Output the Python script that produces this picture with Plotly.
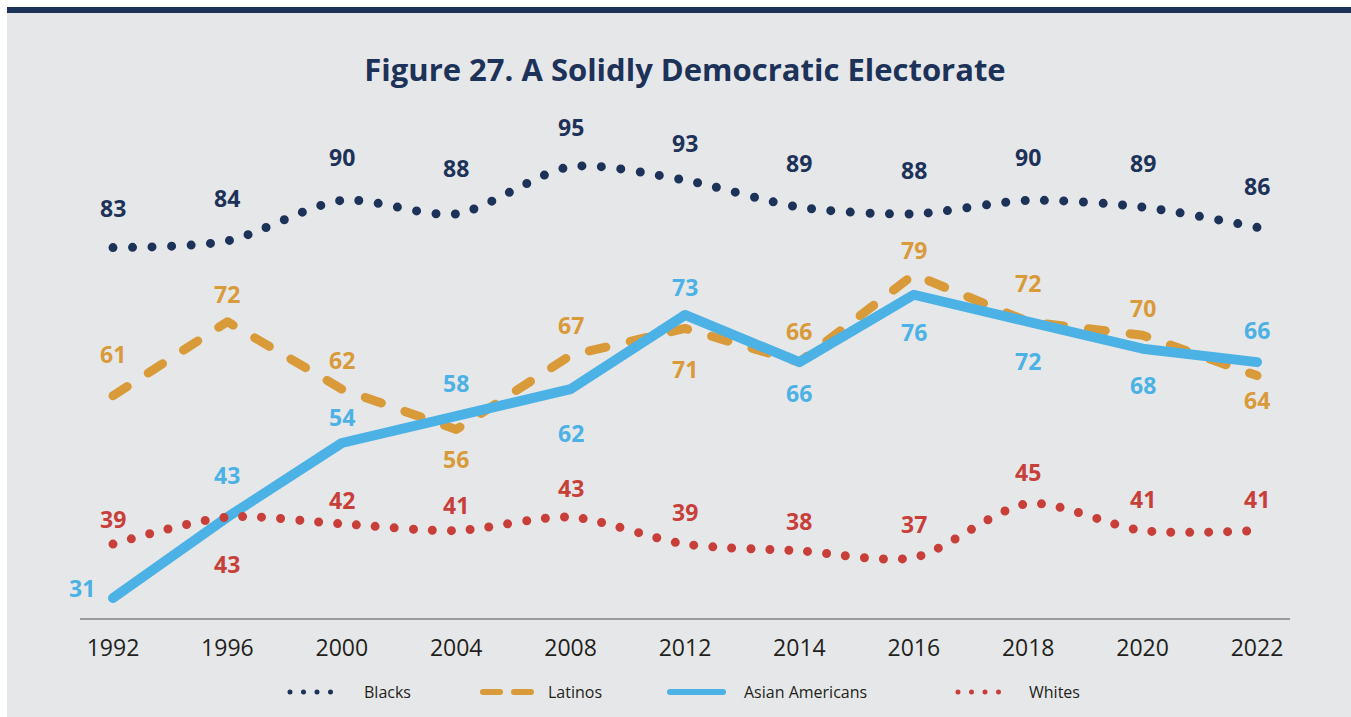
import plotly.graph_objects as go

# ---- data -------------------------------------------------------------
years = ["1992", "1996", "2000", "2004", "2008", "2012", "2014", "2016", "2018", "2020", "2022"]
blacks = [83, 84, 90, 88, 95, 93, 89, 88, 90, 89, 86]
latinos = [61, 72, 62, 56, 67, 71, 66, 79, 72, 70, 64]
asian_americans = [31, 43, 54, 58, 62, 73, 66, 76, 72, 68, 66]
whites = [39, 43, 42, 41, 43, 39, 38, 37, 45, 41, 41]
series_names = ["Blacks", "Latinos", "Asian Americans", "Whites"]

# ---- styling ----------------------------------------------------------
NAVY = "#1d3259"
ORANGE = "#d99a3a"
BLUE = "#4cb2e5"
RED = "#c83f3a"
BG = "#e6e7e8"
TEXT = "#231f20"
FONT = "Open Sans"

# label offsets in pixels (positive = above the point)
blacks_off = [40, 43, 43, 46, 40, 37, 44, 44, 43, 44, 41]
latinos_off = [42, 28, 29, -29, 30, -41, 31, 25, 39, 27, -24]
asian_off = [10, 42, 26, 33, -44, 28, -31, -37, -39, -36, 32]
asian_xoff = [-31, 0, 0, 0, 0, 0, 0, 0, 0, 0, 0]
whites_off = [25, -47, 24, 26, 29, 32, 30, 34, 32, 32, 32]

x = list(range(len(years)))

# plot-area geometry in pixels
W, H = 1351, 717
L, R, T, B = 80, 1290, 100, 618


def px_x(p):
    return (p - L) / (R - L)


def px_y(p):
    return (B - p) / (B - T)


fig = go.Figure()

fig.add_trace(go.Scatter(
    x=x, y=blacks, name=series_names[0], mode="lines",
    line=dict(color=NAVY, width=9, dash="0px,19.5px", shape="spline", smoothing=0.8),
    hoverinfo="skip"))
fig.add_trace(go.Scatter(
    x=x, y=latinos, name=series_names[1], mode="lines",
    line=dict(color=ORANGE, width=9, dash="17px,25px"),
    hoverinfo="skip"))
fig.add_trace(go.Scatter(
    x=x, y=asian_americans, name=series_names[2], mode="lines",
    line=dict(color=BLUE, width=10),
    hoverinfo="skip"))
fig.add_trace(go.Scatter(
    x=x, y=whites, name=series_names[3], mode="lines",
    line=dict(color=RED, width=9, dash="0px,19px", shape="spline", smoothing=0.8),
    hoverinfo="skip"))

annotations = []
for series, offs, color, xoffs in [
    (blacks, blacks_off, NAVY, None),
    (latinos, latinos_off, ORANGE, None),
    (asian_americans, asian_off, BLUE, asian_xoff),
    (whites, whites_off, RED, None),
]:
    for i, v in enumerate(series):
        annotations.append(dict(
            x=i, y=v, xref="x", yref="y", text=f"<b>{v}</b>", showarrow=False,
            yshift=offs[i], xshift=(xoffs[i] if xoffs else 0),
            font=dict(family=FONT, size=23, color=color),
            xanchor="center", yanchor="middle"))

shapes = [
    # white frame strips and navy top rule
    dict(type="rect", xref="paper", yref="paper", layer="below",
         x0=px_x(0), x1=px_x(W), y0=px_y(0), y1=px_y(13),
         fillcolor="white", line=dict(width=0)),
    dict(type="rect", xref="paper", yref="paper", layer="below",
         x0=px_x(0), x1=px_x(7), y0=px_y(0), y1=px_y(H),
         fillcolor="white", line=dict(width=0)),
    dict(type="rect", xref="paper", yref="paper", layer="below",
         x0=px_x(7), x1=px_x(W), y0=px_y(7), y1=px_y(13),
         fillcolor=NAVY, line=dict(width=0)),
]

# legend: sample stroke + label for each series
LEG_Y = 692
legend_items = [
    # (symbol x0, symbol x1, text x, color, width, dash)
    (290, 344, 362, NAVY, 5, "0px,13.5px"),
    (483, 531, 546, ORANGE, 6, "17px,14px"),
    (670, 723, 742, BLUE, 6, "solid"),
    (958, 1012, 1027, RED, 5, "0px,13.5px"),
]
for name, (sx0, sx1, tx, color, lw, dash) in zip(series_names, legend_items):
    shapes.append(dict(type="line", xref="paper", yref="paper",
                       x0=px_x(sx0), x1=px_x(sx1), y0=px_y(LEG_Y), y1=px_y(LEG_Y),
                       line=dict(color=color, width=lw, dash=dash)))
    annotations.append(dict(x=px_x(tx), y=px_y(LEG_Y), xref="paper", yref="paper",
                            text=name, showarrow=False, xanchor="left", yanchor="middle",
                            font=dict(family=FONT, size=16, color=TEXT)))

fig.update_layout(
    width=W, height=H,
    margin=dict(l=L, r=W - R, t=T, b=H - B),
    paper_bgcolor=BG, plot_bgcolor=BG,
    showlegend=False,
    title=dict(text="<b>Figure 27. A Solidly Democratic Electorate</b>",
               x=0.5, xref="paper", y=1 - 70 / H, yref="container",
               xanchor="center", yanchor="middle",
               font=dict(family=FONT, size=31, color=NAVY)),
    xaxis=dict(range=[-0.2885, 10.2885], tickmode="array", tickvals=x, ticktext=years,
               showgrid=False, zeroline=False, showline=True, linecolor="#9b9b9b",
               linewidth=1.5, ticks="outside", ticklen=9, tickcolor="rgba(0,0,0,0)",
               automargin=False,
               tickfont=dict(family=FONT, size=23, color=TEXT)),
    yaxis=dict(range=[28.03, 104.9], visible=False, showgrid=False, zeroline=False,
               automargin=False),
    annotations=annotations,
    shapes=shapes,
)

# round caps turn zero-length dashes into round dots
post = """
var gd = document.getElementsByClassName('plotly-graph-div')[0];
function roundCaps(){
  gd.querySelectorAll('path.js-line, .shapelayer path').forEach(function(p){
    p.style.strokeLinecap = 'round';
    p.style.strokeLinejoin = 'round';
  });
}
roundCaps();
gd.on('plotly_afterplot', roundCaps);
"""

fig.write_html("out.html", post_script=post)
